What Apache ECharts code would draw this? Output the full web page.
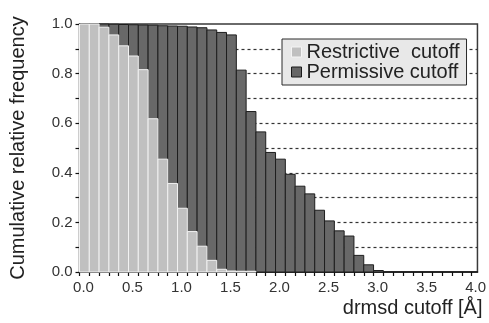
<!DOCTYPE html>
<html>
<head>
<meta charset="utf-8">
<script src="https://cdn.jsdelivr.net/npm/echarts@6/dist/echarts.min.js"></script>
<style>
  html, body { margin: 0; padding: 0; background: #fff; }
  #chart { width: 489px; height: 323px; }
</style>
</head>
<body>
<div id="chart"></div>
<script>
// bin lower edges (drmsd cutoff, Å), one bin every 0.1
const binStart = [
  0.0, 0.1, 0.2, 0.3, 0.4, 0.5, 0.6, 0.7, 0.8, 0.9,
  1.0, 1.1, 1.2, 1.3, 1.4, 1.5, 1.6, 1.7, 1.8, 1.9,
  2.0, 2.1, 2.2, 2.3, 2.4, 2.5, 2.6, 2.7, 2.8, 2.9, 3.0,
]
const binWidth = 0.1

const restrictive = [
  1.0, 1.0, 0.987, 0.956, 0.912, 0.871, 0.816, 0.618, 0.455, 0.357,
  0.257, 0.163, 0.104, 0.047, 0.011, 0.004, 0.003, 0.003, 0, 0,
  0, 0, 0, 0, 0, 0, 0, 0, 0, 0, 0,
]
const permissive = [
  1.0, 1.0, 1.0, 0.999, 0.998, 0.997, 0.996, 0.995, 0.993, 0.992,
  0.991, 0.988, 0.985, 0.976, 0.966, 0.956, 0.814, 0.647, 0.565, 0.482,
  0.455, 0.394, 0.346, 0.315, 0.249, 0.206, 0.166, 0.145, 0.067, 0.029, 0.006,
]

const seriesNames = ['Restrictive  cutoff', 'Permissive cutoff']
const yTicks = [0.0, 0.2, 0.4, 0.6, 0.8, 1.0]
const xTicks = [0.0, 0.5, 1.0, 1.5, 2.0, 2.5, 3.0, 3.5, 4.0]

const font = 'Liberation Sans, Arial, Helvetica, sans-serif'

const isTick = (list, v) => list.some((t) => Math.abs(t - v) < 1e-6)

const barSeries = (name, values, fill, stroke, z) => ({
  name,
  type: 'custom',
  z,
  data: binStart.map((x, i) => [x, values[i]]),
  renderItem: (params, api) => {
    const x0 = api.value(0)
    const y = api.value(1)
    if (!(y > 0)) return null
    const p0 = api.coord([x0, y])
    const p1 = api.coord([x0 + binWidth, 0])
    return {
      type: 'rect',
      shape: { x: p0[0], y: p0[1], width: p1[0] - p0[0], height: p1[1] - p0[1] },
      style: { fill, stroke, lineWidth: 1 },
    }
  },
})

const chart = echarts.init(document.getElementById('chart'))

chart.setOption({
  backgroundColor: '#fff',
  animation: false,
  grid: {
    left: 79.5,
    right: 6,
    top: 24,
    bottom: 51,
    show: true,
    borderColor: '#3a3a3a',
    borderWidth: 1.5,
    backgroundColor: 'transparent',
  },
  legend: {
    orient: 'vertical',
    left: 282,
    top: 39,
    padding: [3, 7, 3, 9],
    itemGap: 0,
    itemWidth: 10,
    itemHeight: 10,
    backgroundColor: '#e8e8e8',
    borderColor: '#2a2a2a',
    borderWidth: 1,
    textStyle: { fontFamily: font, fontSize: 20, color: '#222', lineHeight: 19 },
    data: [
      { name: seriesNames[0], icon: 'rect', itemStyle: { color: '#c0c0c0', borderColor: '#f4f4f4', borderWidth: 1 } },
      { name: seriesNames[1], icon: 'rect', itemStyle: { color: '#666', borderColor: '#1a1a1a', borderWidth: 1 } },
    ],
  },
  xAxis: {
    type: 'value',
    min: 0,
    max: 4.06,
    interval: 0.1,
    name: 'drmsd cutoff [Å]',
    nameLocation: 'end',
    nameGap: 5,
    nameTextStyle: {
      fontFamily: font,
      fontSize: 20,
      color: '#222',
      align: 'right',
      verticalAlign: 'top',
      padding: [26, 0, 0, 0],
    },
    axisLine: { show: true, onZero: false, lineStyle: { color: '#111', width: 1.5 } },
    axisTick: { show: true, length: 4, lineStyle: { color: '#111', width: 1.2 } },
    axisLabel: {
      fontFamily: font,
      fontSize: 15,
      color: '#333',
      margin: 8,
      padding: [0, 0, 0, 8],
      showMaxLabel: false,
      formatter: (v) => (isTick(xTicks, v) ? v.toFixed(1) : ''),
    },
    splitLine: { show: false },
  },
  yAxis: {
    type: 'value',
    min: 0,
    max: 1,
    interval: 0.1,
    name: 'Cumulative relative frequency',
    nameLocation: 'middle',
    nameRotate: 90,
    nameGap: 51,
    nameTextStyle: { fontFamily: font, fontSize: 20, color: '#222' },
    axisLine: { show: true, lineStyle: { color: '#111', width: 1.5 } },
    axisTick: { show: true, length: 4, lineStyle: { color: '#111', width: 1.2 } },
    axisLabel: {
      fontFamily: font,
      fontSize: 15,
      color: '#333',
      margin: 7,
      formatter: (v) => (isTick(yTicks, v) ? v.toFixed(1) : ''),
    },
    splitLine: {
      show: true,
      showMinLine: false,
      showMaxLine: false,
      lineStyle: { color: '#333', width: 1.2, type: [3, 3] },
    },
  },
  series: [
    barSeries(seriesNames[1], permissive, '#686868', '#1e1e1e', 2),
    barSeries(seriesNames[0], restrictive, '#c0c0c0', '#f2f2f2', 3),
  ],
})
</script>
</body>
</html>
